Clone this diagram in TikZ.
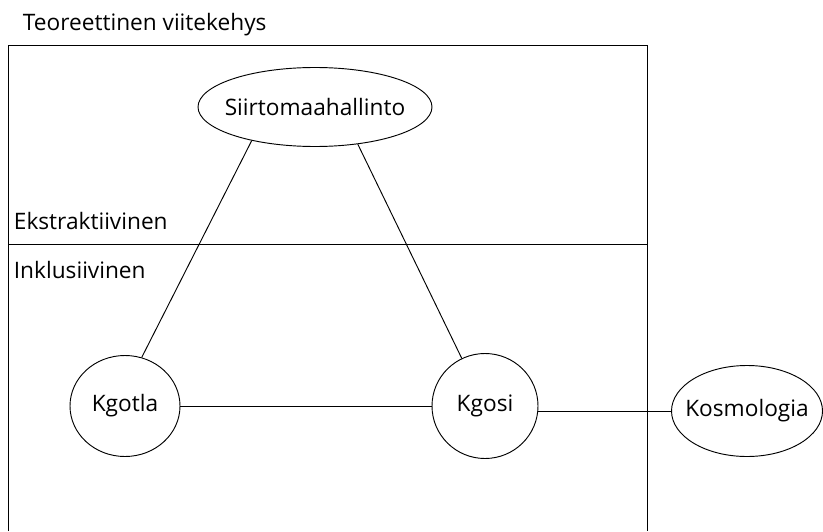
\documentclass[tikz,border=0pt]{standalone}
\usepackage{fontspec}
\setmainfont{Open Sans}
\usetikzlibrary{shapes.geometric,positioning}

\begin{document}
\begin{tikzpicture}[x=0.75pt, y=-0.75pt, node distance = 1cm, auto, line width=0.7pt,
    every node/.style={font=\fontsize{17}{20}\selectfont},
    vaihe/.style={draw, ellipse, inner sep=0pt}]
      \useasboundingbox (0,0) rectangle (823,531);
      \node (title) [anchor=west] at (18,25) {Teoreettinen viitekehys};
      \draw (8,531) -- (8,45) -- (647,45) -- (647,531);
      \draw (8,244) -- (647,244);
      \node (E) [anchor=west] at (9,221) {Ekstraktiivinen};
      \node (I) [anchor=west] at (9,270) {Inklusiivinen};
      \node (S) [vaihe, inner xsep=-6pt, minimum width=234pt*0.75, minimum height=79pt*0.75] at (315,107) {Siirtomaahallinto};
      \node (Kgotla) [vaihe, minimum width=110pt*0.75, minimum height=101pt*0.75] at (125,406) {Kgotla};
      \node (Kgosi) [vaihe, minimum width=106pt*0.75, minimum height=105pt*0.75] at (485,406) {Kgosi};
      \node (Kos) [vaihe, inner xsep=-7pt, minimum width=151pt*0.75, minimum height=91pt*0.75] at (747,411) {Kosmologia};
      \draw [-] (S.208) to node {} (Kgotla.71);
      \draw [-] (S.319) to node {} (Kgosi.116);
      \draw [-] (Kgotla) to node {} (Kgosi);
      \draw [-] (Kgosi.east |- Kos.west) to node {} (Kos);
      \end{tikzpicture}
\end{document}
